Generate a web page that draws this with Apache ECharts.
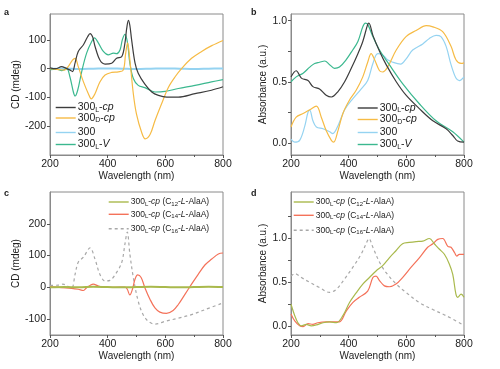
<!DOCTYPE html>
<html><head><meta charset="utf-8">
<script src="https://cdn.jsdelivr.net/npm/echarts@6/dist/echarts.min.js"></script>
<style>html,body{margin:0;padding:0;background:#fff}#c{width:500px;height:369px}</style>
</head><body><div id="c"></div>
<script>
// ---------- Panel a (CD) ----------
const aLcpX = [200,220,240,255,270,278,287,298,316,330,339,348,356,373,391,414,431,449,460,466,472,477,483,495,506,529,553,576,605,645,703,760,800];
const aLcpY = [3,0,7,2,-5,-10,20,60,83,110,122,110,78,30,16,19,36,42,90,140,168,150,101,19,-16,-54,-81,-93,-99,-99,-87,-75,-63];
const aDcpX = [200,230,250,265,278,287,298,316,333,343,356,373,391,414,437,454,462,469,477,489,500,518,530,547,564,587,610,634,657,691,726,761,800];
const aDcpY = [0,-3,-5,10,30,36,7,-46,-87,-105,-87,-46,-22,-13,-11,-5,50,90,30,-87,-158,-222,-244,-229,-181,-122,-66,-28,1,36,60,80,98];
const a300X = [200,250,300,350,400,450,500,550,600,650,700,750,800];
const a300Y = [0,1,-1,0,1,0,-1,0,1,0,-1,0,1];
const aLVX = [200,225,240,258,269,281,287,296,310,327,345,354,368,385,402,420,431,443,451,460,469,477,489,506,529,564,599,645,703,760,800];
const aLVY = [-3,-2,-7,0,-28,-81,-95,-75,-10,54,95,107,89,60,48,54,52,66,101,119,89,19,-34,-58,-66,-81,-79,-69,-58,-46,-38];

// ---------- Panel b (Absorbance) ----------
const bLcpX = [200,218,236,259,276,299,322,340,363,386,409,432,449,466,470,484,507,530,565,599,645,692,738,761,778,800];
const bLcpY = [0.54,0.59,0.53,0.51,0.46,0.44,0.39,0.375,0.42,0.50,0.61,0.73,0.83,0.97,0.98,0.88,0.75,0.64,0.50,0.39,0.28,0.18,0.115,0.06,0.014,0.005];
const bDcpX = [200,218,242,265,288,305,322,340,348,363,380,403,426,449,466,478,490,507,518,535,565,599,634,669,692,726,755,772,790,800];
const bDcpY = [0.13,0.21,0.24,0.27,0.30,0.21,0.10,0.02,0.005,0.10,0.24,0.35,0.43,0.54,0.66,0.73,0.68,0.59,0.58,0.62,0.76,0.87,0.92,0.96,0.95,0.91,0.79,0.68,0.65,0.655];
const b300X = [200,213,230,247,259,265,276,288,311,334,345,363,386,414,443,466,484,501,518,535,553,580,600,622,657,680,703,720,738,755,772,784,800];
const b300Y = [0.03,0.005,0.02,0.13,0.25,0.265,0.18,0.13,0.115,0.09,0.075,0.14,0.27,0.36,0.44,0.51,0.65,0.73,0.72,0.68,0.66,0.645,0.69,0.76,0.81,0.855,0.88,0.87,0.79,0.64,0.53,0.51,0.54];
const bLVX = [200,218,242,265,282,299,317,334,351,368,391,414,432,449,458,466,484,507,541,587,645,703,761,800];
const bLVY = [0.50,0.54,0.57,0.62,0.65,0.66,0.67,0.64,0.61,0.62,0.68,0.76,0.83,0.95,0.98,0.97,0.87,0.76,0.64,0.485,0.32,0.18,0.09,0.005];

// ---------- Panel c (CD) ----------
const cC12X = [200,250,300,350,400,450,500,550,600,650,700,750,800];
const cC12Y = [0,1,0,2,1,0,1,2,1,0,1,2,1];
const cC14X = [200,240,275,298,316,327,339,350,368,391,425,460,468,477,486,495,504,516,529,547,564,581,604,627,645,668,691,714,738,761,784,800];
const cC14Y = [2,-1,-3,-6,-10,-1,6,10,4,0,0,1,-6,-24,-6,26,39,31,-1,-38,-65,-78,-82,-73,-54,-22,10,41,71,89,105,108];
const cC16X = [200,229,245,260,275,287,298,316,339,356,373,391,408,431,449,460,468,477,489,506,523,541,564,599,645,691,738,800];
const cC16Y = [6,7,10,4,-3,41,79,95,124,89,41,20,22,47,79,137,174,105,31,-44,-86,-107,-116,-107,-97,-86,-70,-49];

// ---------- Panel d (Absorbance) ----------
const dC12X = [200,213,224,236,253,270,288,311,334,357,380,403,426,449,472,495,518,541,564,587,610,634,657,680,697,714,732,749,761,772,778,790,800];
const dC12Y = [0.25,0.12,0.04,0.005,0.02,0.005,0.015,0.04,0.05,0.04,0.12,0.27,0.38,0.48,0.555,0.63,0.69,0.78,0.86,0.94,0.955,0.965,0.97,1.0,0.94,0.88,0.82,0.71,0.59,0.365,0.33,0.365,0.33];
const dC14X = [200,213,230,242,259,276,293,322,345,368,391,414,437,466,484,495,507,524,541,564,587,616,645,674,692,709,726,744,755,767,775,784,800];
const dC14Y = [0.14,0.06,0.005,-0.005,0.03,0.02,0.04,0.05,0.05,0.05,0.17,0.27,0.33,0.40,0.555,0.57,0.52,0.46,0.45,0.48,0.555,0.67,0.78,0.90,0.94,0.99,1.0,0.91,0.90,0.84,0.80,0.82,0.82];
const dC16X = [200,213,236,265,299,334,357,386,414,443,466,470,484,507,530,565,599,645,692,738,800];
const dC16Y = [0.57,0.60,0.555,0.50,0.44,0.385,0.42,0.54,0.67,0.82,0.98,1.0,0.90,0.73,0.61,0.48,0.385,0.27,0.19,0.12,0.01];

const F = 'Liberation Sans, Arial, sans-serif';
const zip = (xs, ys) => xs.map((x, i) => [x, ys[i]]);

const C = {black:'#3c3c3c', orange:'#f6bb45', blue:'#95d3f1', green:'#3bb88f',
           olive:'#a9b94c', red:'#f4725a', gray:'#a8a8a8'};

const grids = [
  {left:50, top:14, width:173, height:141},
  {left:291, top:14, width:173, height:141},
  {left:50, top:192, width:173, height:143},
  {left:291, top:192, width:173, height:143}
].map(g => Object.assign({show:true, borderColor:'#8a8a8a', borderWidth:1, containLabel:false, outerBoundsMode:'none'}, g));

function xAx(gi){
  return {type:'value', gridIndex:gi, min:200, max:800, interval:200,
    axisLine:{show:true, onZero:false, lineStyle:{color:'#8a8a8a'}},
    axisTick:{show:true, length:3, lineStyle:{color:'#555'}},
    minorTick:{show:true, splitNumber:2, length:2, lineStyle:{color:'#555'}},
    splitLine:{show:false}, minorSplitLine:{show:false},
    axisLabel:{fontSize:10.5, color:'#222', margin:4, fontFamily:F},
    name:'Wavelength (nm)', nameLocation:'middle', nameGap:15,
    nameTextStyle:{fontSize:10, color:'#222', fontFamily:F}};
}
function yAx(gi, min, max, ticks, labels, name, gap, dec){
  return {type:'value', gridIndex:gi, min:min, max:max,
    axisLine:{show:true, onZero:false, lineStyle:{color:'#8a8a8a'}},
    axisTick:{show:true, length:3, customValues:ticks, lineStyle:{color:'#555'}},
    splitLine:{show:false},
    axisLabel:{fontSize:10.5, color:'#222', margin:4, fontFamily:F, customValues:labels,
      formatter: v => dec ? Number(v).toFixed(1) : String(v)},
    name:name, nameLocation:'middle', nameGap:gap,
    nameTextStyle:{fontSize:10, color:'#222', fontFamily:F}};
}

function ser(name, gi, xs, ys, color, opts){
  opts = opts || {};
  return {name:name, type:'line', xAxisIndex:gi, yAxisIndex:gi, data:zip(xs, ys),
    symbol:'none', smooth:0.35, z:opts.z || 2,
    lineStyle:{color:color, width:opts.w || 1.2, type:opts.dash || 'solid'},
    itemStyle:{color:color}};
}

const series = [
  ser('a300', 0, a300X, a300Y, C.blue, {w:2, z:1}),
  ser('aLV', 0, aLVX, aLVY, C.green),
  ser('aDcp', 0, aDcpX, aDcpY, C.orange),
  ser('aLcp', 0, aLcpX, aLcpY, C.black, {z:3}),
  ser('b300', 1, b300X, b300Y, C.blue),
  ser('bDcp', 1, bDcpX, bDcpY, C.orange),
  ser('bLV', 1, bLVX, bLVY, C.green),
  ser('bLcp', 1, bLcpX, bLcpY, C.black, {z:3}),
  ser('cC16', 2, cC16X, cC16Y, C.gray, {dash:[3,3]}),
  ser('cC14', 2, cC14X, cC14Y, C.red),
  ser('cC12', 2, cC12X, cC12Y, C.olive, {w:2}),
  ser('dC16', 3, dC16X, dC16Y, C.gray, {dash:[3,3]}),
  ser('dC14', 3, dC14X, dC14Y, C.red),
  ser('dC12', 3, dC12X, dC12Y, C.olive)
];

const labels = {
  aLcp:'{n|300}{s|L}{n|-}{i|cp}', aDcp:'{n|300}{s|D}{n|-}{i|cp}', a300:'{n|300}', aLV:'{n|300}{s|L}{n|-}{i|V}',
  bLcp:'{n|300}{s|L}{n|-}{i|cp}', bDcp:'{n|300}{s|D}{n|-}{i|cp}', b300:'{n|300}', bLV:'{n|300}{s|L}{n|-}{i|V}',
  cC12:'{m|300}{t|L}{m|-}{j|cp}{m| (C}{t|12}{m|-}{j|L}{m|-AlaA)}',
  cC14:'{m|300}{t|L}{m|-}{j|cp}{m| (C}{t|14}{m|-}{j|L}{m|-AlaA)}',
  cC16:'{m|300}{t|L}{m|-}{j|cp}{m| (C}{t|16}{m|-}{j|L}{m|-AlaA)}',
  dC12:'{m|300}{t|L}{m|-}{j|cp}{m| (C}{t|12}{m|-}{j|L}{m|-AlaA)}',
  dC14:'{m|300}{t|L}{m|-}{j|cp}{m| (C}{t|14}{m|-}{j|L}{m|-AlaA)}',
  dC16:'{m|300}{t|L}{m|-}{j|cp}{m| (C}{t|16}{m|-}{j|L}{m|-AlaA)}'
};
const rich = {
  n:{fontSize:10.5, fontFamily:F, color:'#222', lineHeight:12, verticalAlign:'middle'},
  i:{fontSize:10.5, fontFamily:F, color:'#222', fontStyle:'italic', lineHeight:12, verticalAlign:'middle'},
  s:{fontSize:7, fontFamily:F, color:'#222', lineHeight:7, verticalAlign:'bottom'},
  m:{fontSize:8.5, fontFamily:F, color:'#222', lineHeight:11, verticalAlign:'middle'},
  j:{fontSize:8.5, fontFamily:F, color:'#222', fontStyle:'italic', lineHeight:11, verticalAlign:'middle'},
  t:{fontSize:6, fontFamily:F, color:'#222', lineHeight:6, verticalAlign:'bottom'}
};
function leg(name, left, cy, h, dash){
  const color = series.find(s => s.name === name).lineStyle.color;
  return {show:true, data:[name], left:left, top:cy - h/2, padding:0, itemWidth:20, itemHeight:h,
    selectedMode:false,
    itemStyle:{opacity:0},
    lineStyle:{color:color, width:1.4, type: dash ? [3,3] : 'solid', inactiveWidth:1.4},
    formatter: n => labels[n], textStyle:{rich:rich, padding:[0,0,0,-3]}};
}
const legends = [
  leg('aLcp', 55, 108, 12), leg('aDcp', 55, 118.5, 12), leg('a300', 55, 133, 12), leg('aLV', 55, 145, 12),
  leg('bLcp', 357, 108.5, 12), leg('bDcp', 357, 120, 12), leg('b300', 357, 133, 12), leg('bLV', 357, 145, 12),
  leg('cC12', 108, 203, 11), leg('cC14', 108, 215.3, 11), leg('cC16', 108, 229.7, 11, true),
  leg('dC12', 293, 203, 11), leg('dC14', 293, 216.3, 11), leg('dC16', 293, 231.3, 11, true)
];

const chart = echarts.init(document.getElementById('c'), null, {renderer:'canvas'});
chart.setOption({
  animation:false,
  backgroundColor:'#fff',
  textStyle:{fontFamily:F},
  grid:grids,
  xAxis:[xAx(0), xAx(1), xAx(2), xAx(3)],
  yAxis:[
    yAx(0, -300, 190, [-200,-100,0,100], [-200,-100,0,100], 'CD (mdeg)', 22, false),
    yAx(1, -0.1, 1.055, [0,0.25,0.5,0.75,1.0], [0,0.5,1.0], 'Absorbance (a.u.)', 14, true),
    yAx(2, -150, 300, [-100,0,100,200], [-100,0,100,200], 'CD (mdeg)', 22, false),
    yAx(3, -0.1, 1.53, [0,0.25,0.5,0.75,1.0,1.25], [0,0.5,1.0], 'Absorbance (a.u.)', 14, true)
  ],
  legend:legends,
  series:series,
  graphic:[
    {type:'text', left:4, top:8, style:{text:'a', font:'bold 9px ' + F, fill:'#222'}},
    {type:'text', left:251, top:8, style:{text:'b', font:'bold 9px ' + F, fill:'#222'}},
    {type:'text', left:4, top:189, style:{text:'c', font:'bold 9px ' + F, fill:'#222'}},
    {type:'text', left:251, top:189, style:{text:'d', font:'bold 9px ' + F, fill:'#222'}}
  ]
});
</script></body></html>
